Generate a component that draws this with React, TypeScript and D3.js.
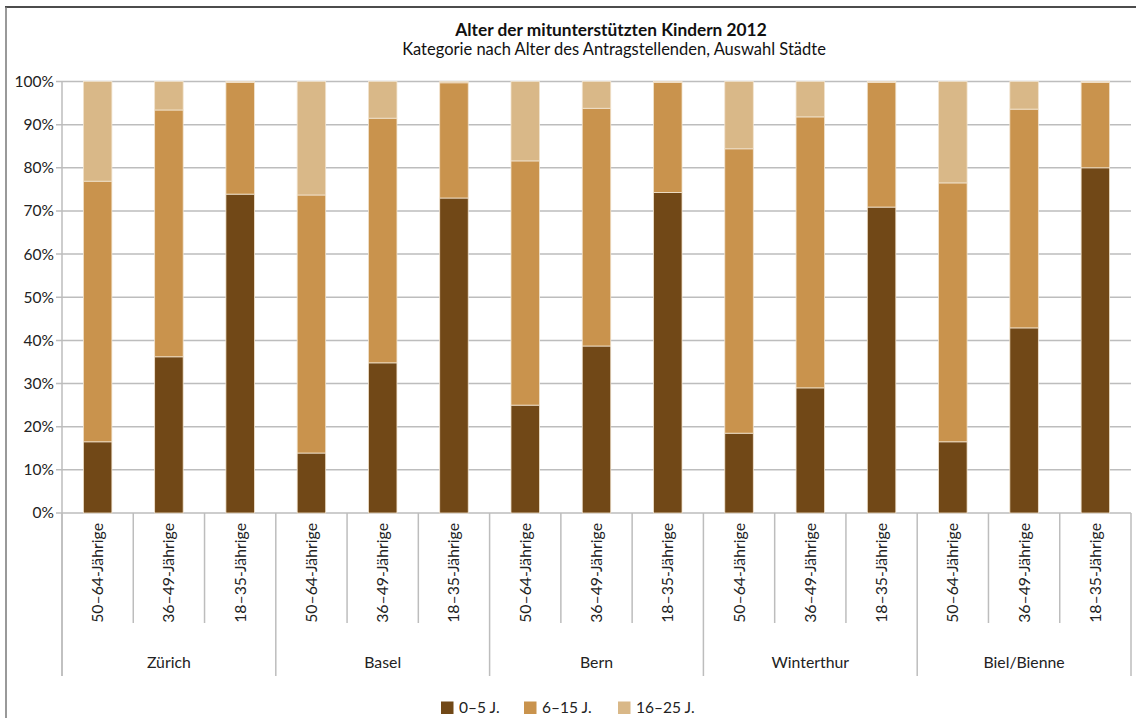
import React from "react";
import * as d3 from "d3";

const cities = ["Zürich", "Basel", "Bern", "Winterthur", "Biel/Bienne"];
const ageGroups = ["50–64-Jährige", "36–49-Jährige", "18–35-Jährige"];
const seriesNames = ["0–5 J.", "6–15 J.", "16–25 J."];
const seriesColors = ["#714817", "#C9934D", "#D9B888"];

// segment shares (percent), order: city x age group
const kids0to5 = [16.5, 36.2, 73.9, 13.9, 34.8, 73.0, 25.0, 38.7, 74.3, 18.5, 29.0, 70.9, 16.5, 42.9, 80.0];
const kids6to15 = [60.4, 57.2, 25.9, 59.8, 56.7, 26.7, 56.6, 55.1, 25.5, 65.9, 62.8, 28.9, 60.0, 50.7, 19.8];
const kids16to25 = [23.1, 6.6, 0.2, 26.3, 8.5, 0.3, 18.4, 6.2, 0.2, 15.6, 8.2, 0.2, 23.5, 6.4, 0.2];
const yTicks = [0, 10, 20, 30, 40, 50, 60, 70, 80, 90, 100];

const W = 1136;
const H = 718;
const margin = { left: 62, right: 5, top: 81.5, plotBottom: 513 };
const FONT = "Lato, 'Open Sans', sans-serif";

export default function App() {
  const cats = cities.flatMap((c) => ageGroups.map((a) => `${c}|${a}`));
  const x = d3.scaleBand<string>().domain(cats).range([margin.left, W - margin.right]).paddingInner(0.6).paddingOuter(0.3);
  const y = d3.scaleLinear().domain([0, 100]).range([margin.plotBottom, margin.top]);
  const rows = cats.map((c, i) => ({ key: c, s0: kids0to5[i], s1: kids6to15[i], s2: kids16to25[i] }));
  const stack = d3.stack<any>().keys(["s0", "s1", "s2"])(rows);
  const x0 = margin.left;
  const x1 = W - margin.right;
  const bandEdge = (i: number) => x0 + ((x1 - x0) * i) / cats.length;
  const grid = "#bdbdbd";

  return (
    <svg width={W} height={H} style={{ display: "block", position: "absolute", left: 0, top: 0 }} fontFamily={FONT}>
      <rect x={0} y={0} width={W} height={H} fill="#fff" />
      {/* frame */}
      <line x1={5} x2={W} y1={7} y2={7} stroke="#111" strokeWidth={1.5} />
      <line x1={6} x2={6} y1={7} y2={H} stroke="#777" strokeWidth={1.5} />
      {/* title */}
      <text x={611} y={36} textAnchor="middle" fontSize={17.3} fontWeight="bold" fill="#111">
        Alter der mitunterstützten Kindern 2012
      </text>
      <text x={614} y={55} textAnchor="middle" fontSize={16.5} fill="#111">
        Kategorie nach Alter des Antragstellenden, Auswahl Städte
      </text>
      {/* grid */}
      {yTicks.map((t) => (
        <g key={t}>
          <line x1={x0 - 6} x2={x1} y1={y(t)} y2={y(t)} stroke={grid} strokeWidth={1.5} />
          <text x={x0 - 8} y={y(t)} dy="0.35em" textAnchor="end" fontSize={15.5} fill="#222">
            {t}%
          </text>
        </g>
      ))}
      <line x1={x0} x2={x0} y1={y(100)} y2={676} stroke={grid} strokeWidth={1.5} />
      {/* bars */}
      {stack.map((s, si) => (
        <g key={si} fill={seriesColors[si]}>
          {s.map((d, i) => {
            const h = y(d[0]) - y(d[1]);
            if (h <= 0) return null;
            return (
              <rect key={i} x={x(cats[i])!} width={x.bandwidth()} y={y(d[1])} height={h} stroke="#f2e4cf" strokeWidth={0.8} />
            );
          })}
        </g>
      ))}
      {/* x axis separators */}
      {d3.range(cats.length + 1).map((i) => (
        <line key={i} x1={bandEdge(i)} x2={bandEdge(i)} y1={margin.plotBottom} y2={i % 3 === 0 ? 676 : 623} stroke={grid} strokeWidth={1.5} />
      ))}
      {cats.map((c, i) => {
        const cx = x(c)! + x.bandwidth() / 2;
        return (
          <text key={c} transform={`translate(${cx},${523}) rotate(-90)`} textAnchor="end" dy="0.35em" fontSize={15.8} fill="#222">
            {ageGroups[i % 3]}
          </text>
        );
      })}
      {cities.map((c, i) => (
        <text key={c} x={(bandEdge(i * 3) + bandEdge(i * 3 + 3)) / 2} y={668} textAnchor="middle" fontSize={15.8} fill="#222">
          {c}
        </text>
      ))}
      {/* legend */}
      {seriesNames.map((n, i) => {
        const lx = [441, 524, 618][i];
        return (
          <g key={n}>
            <rect x={lx} y={701.5} width={12.5} height={12.5} fill={seriesColors[i]} />
            <text x={lx + 18} y={708} dy="0.35em" fontSize={15.5} fill="#222">
              {n}
            </text>
          </g>
        );
      })}
    </svg>
  );
}
